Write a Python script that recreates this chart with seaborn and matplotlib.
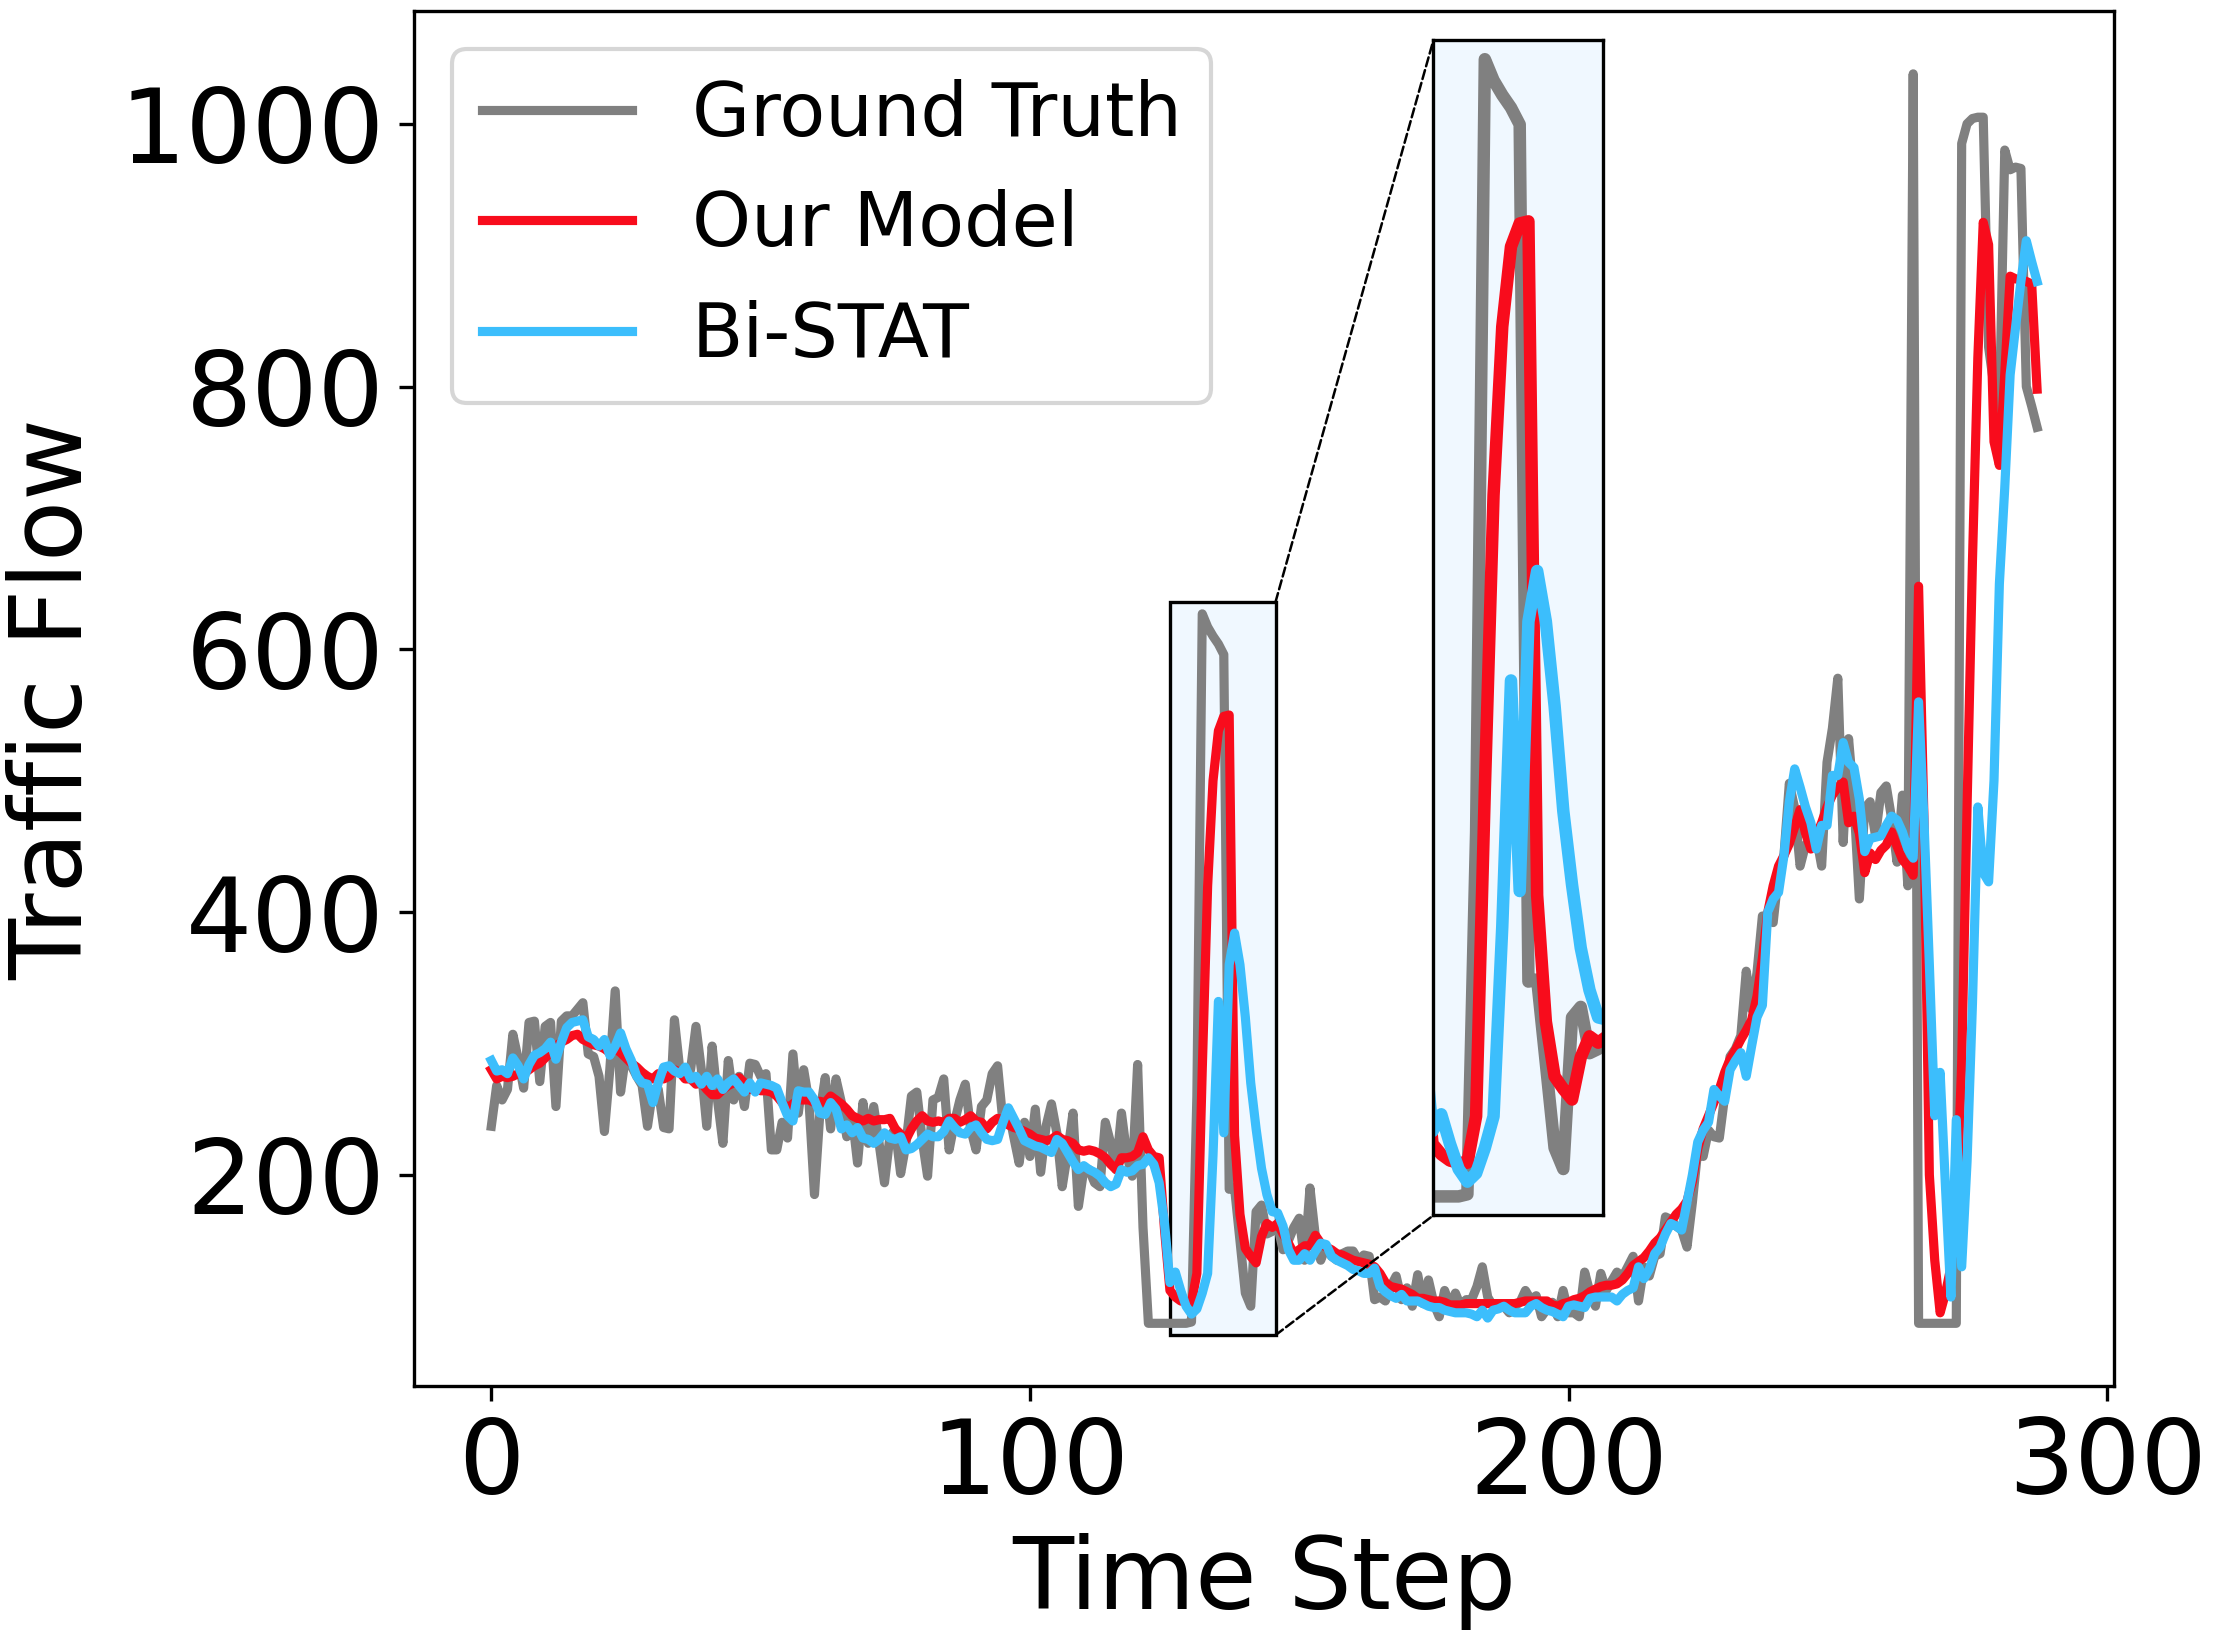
import numpy as np
import pandas as pd
import seaborn as sns
import matplotlib.pyplot as plt
from matplotlib.patches import Rectangle, ConnectionPatch

# values, one per time step (0..287)
ground_truth = [
    237, 268, 257, 265, 307, 288, 266, 316, 317, 271, 313, 316, 252, 317, 321, 321, 326, 331, 292, 290,
    275, 233, 280, 340, 263, 293, 283, 275, 268, 237, 265, 265, 236, 235, 318, 280, 280, 280, 313, 280,
    237, 298, 257, 224, 287, 257, 275, 252, 285,
    284, 275, 277, 219, 219, 240, 228, 292, 247, 280, 255, 185, 247, 274, 235, 273, 255, 229, 245, 209,
    255, 224, 252, 224, 194, 229, 235, 201, 224, 260, 263, 227, 199, 257, 259, 273, 219, 240, 257, 269,
    235, 219, 252, 257, 277, 283, 240, 250, 229, 209, 240,
    214, 250, 202, 237, 254, 232, 191, 217, 247, 176, 204, 204, 194, 191, 240, 224, 204, 247, 215, 199,
    284, 160,
    87, 87, 87, 87, 87, 87, 87, 87,
    88, 260, 627, 617, 610, 604, 596, 189, 190, 150, 110, 100, 172, 177, 155, 157,
    161, 143, 150, 160, 167, 135, 190, 153, 135, 146, 138, 135, 140, 142, 142, 135, 139, 138, 105, 107,
    104, 115, 123, 105, 114, 100, 124, 102, 120, 102, 92, 112, 100, 110, 100, 105, 105, 115, 130, 107,
    100, 100, 100, 95, 100, 103, 112, 105, 108, 92, 98, 103,
    92, 112, 95, 95, 92, 126, 110, 100, 125, 112, 119, 126, 122, 130, 138, 104, 130, 123, 138, 140,
    168, 166, 161, 158, 145, 179, 219, 214, 234, 229, 228, 260, 290, 296, 306, 355, 326, 354, 397, 397,
    392, 430,
    443, 498, 479, 435, 451, 455, 458, 435, 514, 540, 578, 453, 532, 484, 410, 479, 484, 458, 491, 496,
    471, 438, 489, 420,
    1038,
    87, 87, 87, 87, 87, 87, 87, 87,
    985, 1000, 1004, 1005, 1005, 830, 800, 781, 980, 965, 967, 966, 800, 785, 769,
]

our_model = [
    280, 273, 275, 274, 275, 277, 277, 280, 283, 285, 289, 293, 298, 301, 303, 306, 307, 303, 301, 299,
    298, 296, 293, 296, 293, 289, 285, 282, 278, 275, 273, 277, 273, 275, 280, 278, 273, 273, 269, 270,
    265, 261, 261, 265, 268, 270, 274, 270, 265,
    266, 264, 264, 263, 260, 255, 251, 254, 257, 257, 257, 255, 256, 255, 260, 257, 254, 250, 245, 243,
    241, 243, 241, 242, 242, 243, 235, 231, 227, 235, 241, 245, 241, 240, 241, 240, 243, 243, 240, 242,
    245, 241, 240, 235, 240, 243, 242, 238, 236, 235, 233,
    231, 228, 227, 226, 227, 230, 227, 226, 224, 219, 218, 219, 218, 216, 213, 208, 204, 213, 213, 214,
    217, 229, 219, 214, 213, 158,
    112, 107, 104, 103, 103, 125, 280, 420, 500, 538, 549, 550, 230, 170, 144, 138, 133, 153, 163, 160,
    163, 155, 148, 140, 143, 146, 146, 154, 148, 145, 143, 140, 139, 137, 135, 134, 133, 132, 130, 125,
    118, 115, 114, 113, 111, 109, 106, 106, 105, 104, 104, 103, 101, 101, 101, 102, 102, 102, 102, 102,
    102, 102, 102, 102, 102, 103, 104, 104, 104, 104, 104, 101,
    100, 102, 103, 105, 106, 108, 111, 113, 115, 116, 116, 117, 120, 125, 131, 134, 137, 142, 148, 152,
    158, 164, 170, 174, 180, 195, 220, 235, 245, 255, 265, 278, 288, 295, 303, 310, 318, 336, 365, 400,
    420, 435,
    443, 452, 465, 478, 460, 448, 458, 468, 480, 489, 495, 499, 468, 473, 460, 430, 445, 440, 447, 451,
    461, 450, 440, 435, 428,
    648, 470, 200, 135, 95, 110, 130, 170, 285, 480, 667, 822, 925, 908, 758, 740, 810, 884, 882, 881,
    880, 878, 798,
]

bi_stat = [
    287, 279, 280, 277, 289, 283, 273, 284, 291, 293, 296, 301, 288, 301, 312, 316, 317, 318, 305, 303,
    298, 303, 291, 298, 308, 296, 287, 275, 270, 269, 255, 270, 282, 283, 279, 277, 282, 273, 275, 269,
    275, 268, 273, 265, 270, 273, 268, 263, 270,
    263, 270, 269, 268, 266, 255, 245, 241, 264, 263, 263, 257, 247, 246, 255, 250, 235, 238, 232, 236,
    228, 227, 224, 227, 232, 228, 227, 229, 219, 220, 223, 227, 231, 229, 229, 233, 241, 236, 232, 231,
    236, 238, 232, 227, 226, 227, 240, 251, 243, 235, 226,
    224, 222, 221, 219, 217, 227, 224, 217, 210, 204, 207, 204, 202, 199, 194, 191, 193, 204, 202, 203,
    207, 208, 213, 208, 194, 163,
    118, 126, 112, 100, 94, 98, 110, 125, 215, 332, 232, 360, 384, 360, 320, 270, 235, 205, 185, 172,
    171, 161, 143, 135, 135, 140, 135, 142, 148, 147, 138, 135, 133, 131, 128, 127, 125, 125, 129, 115,
    111, 108, 106, 109, 104, 104, 104, 102, 100, 99, 99, 97, 96, 95, 95, 95, 94, 92, 97, 91,
    97, 98, 100, 97, 95, 95, 95, 100, 102, 99, 97, 96,
    94, 92, 100, 101, 100, 99, 106, 107, 107, 107, 107, 104, 109, 112, 114, 130, 121, 128, 140, 145,
    155, 163, 161, 158, 179, 200, 225, 234, 240, 265, 260, 256, 280, 287, 293, 275, 298, 320, 329, 400,
    410, 415,
    443, 484, 509, 495, 480, 468, 448, 466, 466, 504, 504, 529, 514, 510, 486, 446, 456, 457, 458, 466,
    473, 470, 461, 448, 441,
    560, 470, 360, 245, 278, 190, 107, 242, 130, 210, 330, 480, 430, 423, 500, 650, 723, 809, 845, 880,
    911, 895, 880,
]

time_step = np.arange(len(ground_truth))

series_names = ['Ground Truth', 'Our Model', 'Bi-STAT']
series_colors = ['gray', '#f80c1c', '#3cbefc']

data = pd.DataFrame({'Time Step': time_step,
                     'Ground Truth': ground_truth,
                     'Our Model': our_model,
                     'Bi-STAT': bi_stat})

# zoomed window (x range and y range of the highlighted box)
zoom_x = (126.1, 145.6)
zoom_y = (78, 636)

fig, ax = plt.subplots(figsize=(7.38, 5.467), dpi=300)
fig.subplots_adjust(left=0.187, right=0.955, top=0.993, bottom=0.155)

for name, color in zip(series_names, series_colors):
    sns.lineplot(data=data, x='Time Step', y=name, ax=ax, color=color,
                 linewidth=2.2, label=name)

ax.set_xlabel('Time Step', fontsize=24)
ax.set_ylabel('Traffic Flow', fontsize=24)
ax.set_xticks([0, 100, 200, 300])
ax.set_yticks([200, 400, 600, 800, 1000])
ax.tick_params(labelsize=25)
ax.legend(loc='upper left', fontsize=18, labelspacing=0.5)

# highlighted box in the main plot
box = Rectangle((zoom_x[0], zoom_y[0]), zoom_x[1] - zoom_x[0], zoom_y[1] - zoom_y[0],
                facecolor='aliceblue', edgecolor='black', linewidth=0.8, zorder=0.5)
ax.add_patch(box)

# inset with the zoomed peak
axins = ax.inset_axes([0.5995, 0.124, 0.1, 0.855])
axins.set_facecolor('aliceblue')
for name, color in zip(series_names, series_colors):
    sns.lineplot(data=data, x='Time Step', y=name, ax=axins, color=color,
                 linewidth=3.0, legend=False)
axins.set_xlim(*zoom_x)
axins.set_ylim(*zoom_y)
axins.set_xticks([])
axins.set_yticks([])
axins.set_xlabel('')
axins.set_ylabel('')
for sp in axins.spines.values():
    sp.set_linewidth(0.8)

# dashed connectors from the box to the inset
for y_end, y_frac in [(zoom_y[1], 1), (zoom_y[0], 0)]:
    con = ConnectionPatch(xyA=(zoom_x[1], y_end), coordsA=ax.transData,
                          xyB=(0, y_frac), coordsB=axins.transAxes,
                          linestyle='--', linewidth=0.6, color='black')
    fig.add_artist(con)

plt.savefig('out.png', dpi=300)
